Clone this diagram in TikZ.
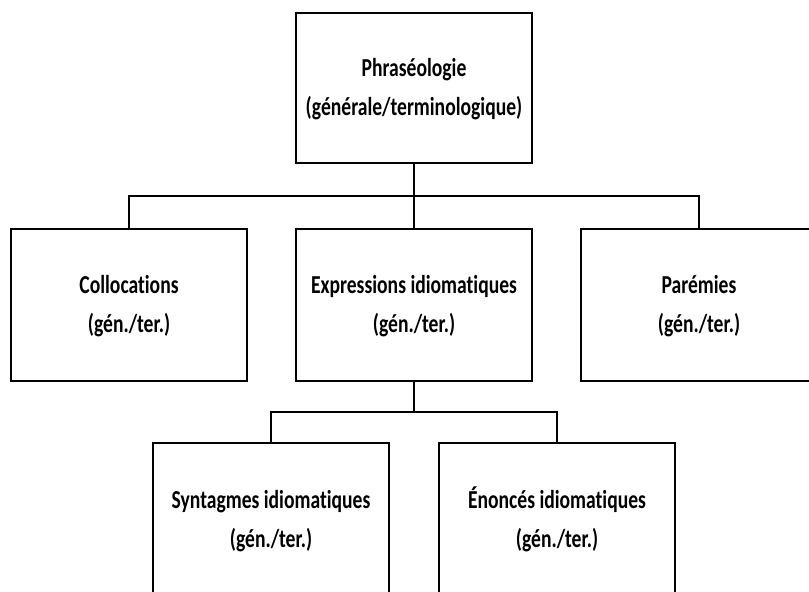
\documentclass[tikz,border=0pt]{standalone}
\usepackage{fontspec}
\usepackage{graphicx}
\setmainfont[Ligatures=NoCommon]{Carlito}
% two centred lines, set in a tall narrow face
\newcommand\boxtext[2]{\scalebox{1}[1.32]{\begin{tabular}{@{}c@{}}#1\\#2\end{tabular}}}
\begin{document}
\begin{tikzpicture}[x=1pt,y=-1pt,
  box/.style={draw=black, line width=1.6pt, minimum width=236pt, inner sep=0pt,
    font=\fontsize{19.6}{29.5}\selectfont\bfseries},
  link/.style={draw=black, line width=1.6pt}]
  \path[use as bounding box, clip] (0,0) rectangle (809,592);
  \fill[white] (0,0) rectangle (809,592);

  % root
  \node[box, minimum height=150pt] (phr) at (414,88)
    {\boxtext{Phraséologie}{(générale/terminologique)}};

  % second level
  \node[box, minimum height=152pt] (col) at (129,305) {\boxtext{Collocations}{(gén./ter.)}};
  \node[box, minimum height=152pt] (exp) at (414,305) {\boxtext{Expressions idiomatiques}{(gén./ter.)}};
  \node[box, minimum height=152pt] (par) at (699,305) {\boxtext{Parémies}{(gén./ter.)}};

  % third level
  \node[box, minimum height=154pt] (syn) at (271,520) {\boxtext{Syntagmes idiomatiques}{(gén./ter.)}};
  \node[box, minimum height=154pt] (eno) at (557,520) {\boxtext{Énoncés idiomatiques}{(gén./ter.)}};

  % junction points of the tree lines
  \coordinate (j1) at (414,196);
  \coordinate (j2) at (414,412);

  \draw[link] (phr.south) -- (exp.north);
  \draw[link] (col.north) |- (j1) -| (par.north);
  \draw[link] (exp.south) -- (j2);
  \draw[link] (syn.north) |- (j2) -| (eno.north);
\end{tikzpicture}
\end{document}
